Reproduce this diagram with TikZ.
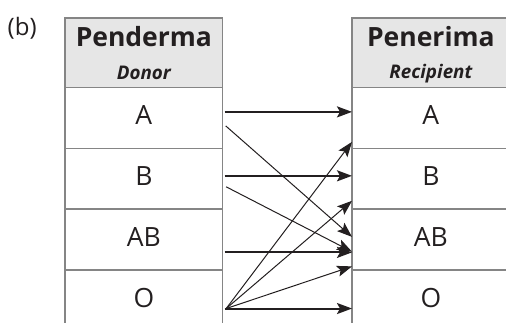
\documentclass[tikz,border=0pt]{standalone}
\usepackage{fontspec}
\setmainfont{Open Sans}
\usetikzlibrary{arrows.meta}
\definecolor{rule}{RGB}{133,133,133}
\definecolor{headfill}{RGB}{230,230,230}
\definecolor{ink}{RGB}{35,31,32}
\begin{document}
\begin{tikzpicture}[x=1pt,y=-1pt,
  cell/.style={draw=rule, line width=1.5pt, outer sep=0pt, inner sep=0pt,
    minimum width=157.7pt, minimum height=60.75pt, text=ink,
    font=\fontsize{26.5}{30}\selectfont, text height=13.9pt, text depth=0pt},
  head/.style={cell, fill=headfill, minimum height=69.5pt,
    font=\fontsize{26.5}{30}\selectfont\bfseries, text height=14pt, text depth=26.1pt},
  sublabel/.style={anchor=base, yshift=-20.55pt, inner sep=0pt, text=ink,
    font=\fontsize{18.8}{22}\selectfont\bfseries\itshape},
  conn/.style={draw=ink, line width=1pt, -{Stealth[length=15pt,width=11pt,inset=3pt]}},
  main/.style={conn, line width=2pt}]
\clip (0,0) rectangle (506,322);

% panel label
\node[text=ink, font=\fontsize{24}{28}\selectfont, anchor=base west, inner sep=0pt] (tag) at (7.5,35) {(b)};

% donor column
\node[head, label={[sublabel]center:Donor}] (lhead) at (143.85,52.75) {Penderma};
\node[cell] (lA)  at (143.85,117.875) {A};
\node[cell] (lB)  at (143.85,178.625) {B};
\node[cell] (lAB) at (143.85,239.375) {AB};
\node[cell] (lO)  at (143.85,300.125) {O};

% recipient column
\node[head, label={[sublabel]center:Recipient}] (rhead) at (430.85,52.75) {Penerima};
\node[cell] (rA)  at (430.85,117.875) {A};
\node[cell] (rB)  at (430.85,178.625) {B};
\node[cell] (rAB) at (430.85,239.375) {AB};
\node[cell] (rO)  at (430.85,300.125) {O};

% same-group transfusions
\draw[main] ([xshift=2pt,yshift=6pt]lA.east) -- ([yshift=6pt]rA.west);
\draw[main] ([xshift=2pt,yshift=2.8pt]lB.east) -- ([yshift=2.8pt]rB.west);
\draw[main] ([xshift=2pt,yshift=-13pt]lAB.east) -- ([yshift=-13pt]rAB.west);
\draw[main] ([xshift=2pt,yshift=-8.4pt]lO.east) -- ([yshift=-8.4pt]rO.west);

% cross-group transfusions
\draw[conn] ([xshift=3pt,yshift=-8pt]lA.east) -- ([yshift=2.5pt]rAB.west);
\draw[conn] ([xshift=3.5pt,yshift=-8.2pt]lB.east) -- ([yshift=-12.3pt]rAB.west);
\draw[conn] ([xshift=3.5pt,yshift=-8.4pt]lO.east) -- ([yshift=-24pt]rA.west);
\draw[conn] ([xshift=3.5pt,yshift=-8.4pt]lO.east) -- ([yshift=-22.2pt]rB.west);
\draw[conn] ([xshift=3.5pt,yshift=-8.4pt]lO.east) -- ([yshift=-27pt]rAB.west);
\end{tikzpicture}
\end{document}
